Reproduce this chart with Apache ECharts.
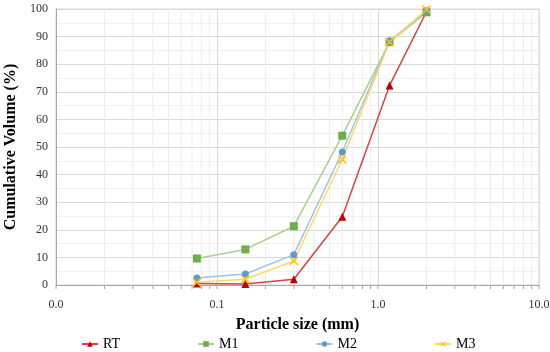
<!DOCTYPE html>
<html><head><meta charset="utf-8">
<script src="https://cdn.jsdelivr.net/npm/echarts@6/dist/echarts.min.js"></script>
<style>html,body{margin:0;padding:0;background:#fff}#c{width:550px;height:352px}</style>
</head><body><div id="c"></div>
<script>
const sizes = [0.075, 0.15, 0.3, 0.6, 1.18, 2.0];
const rt = [0.5, 0.4, 2.1, 24.7, 72.3, 99.0];
const m1 = [9.6, 12.9, 21.3, 54.1, 88.0, 98.8];
const m2 = [2.5, 4.0, 11.0, 48.2, 88.5, 99.4];
const m3 = [1.0, 2.1, 8.7, 45.5, 88.0, 99.8];
const minorX = [0.02,0.03,0.04,0.05,0.06,0.07,0.08,0.09,0.2,0.3,0.4,0.5,0.6,0.7,0.8,0.9,2,3,4,5,6,7,8,9];
const allTicksX = [0.01,0.1,1,10].concat(minorX);

const F = 'Liberation Serif';
const xPath = 'path://M0,1.2L1.2,0L5,3.8L8.8,0L10,1.2L6.2,5L10,8.8L8.8,10L5,6.2L1.2,10L0,8.8L3.8,5Z';
const pair = a => sizes.map((s,i)=>[s,a[i]]);

function mk(name, data, sym, symColor, lineColor, size){
  return {name, type:'line', data:pair(data), symbol:sym, symbolSize:size,
    itemStyle:{color:symColor}, lineStyle:{color:lineColor, width:1.5}, z:5};
}
const chart = echarts.init(document.getElementById('c'));
chart.setOption({
  animation:false,
  grid:{left:56, right:11, top:9, bottom:67, outerBoundsMode:'none', containLabel:false, show:true, borderColor:'#D9D9D9', borderWidth:1},
  xAxis:{type:'log', logBase:10, min:0.01, max:10,
    name:'Particle size (mm)', nameLocation:'middle', nameGap:32,
    nameTextStyle:{fontFamily:F, fontWeight:'bold', fontSize:16, color:'#000'},
    axisLine:{lineStyle:{color:'#A6A6A6'}}, axisTick:{show:false},
    axisLabel:{fontFamily:F, fontSize:12, color:'#333', margin:14, formatter:v=>v.toFixed(1)},
    splitLine:{show:true, lineStyle:{color:'#D9D9D9'}}},
  yAxis:{type:'value', min:0, max:100, interval:10,
    name:'Cumulative Volume (%)', nameLocation:'middle', nameGap:37,
    nameTextStyle:{fontFamily:F, fontWeight:'bold', fontSize:16, color:'#000'},
    axisLine:{show:true, lineStyle:{color:'#A6A6A6'}}, axisTick:{show:false},
    axisLabel:{fontFamily:F, fontSize:12, color:'#333', margin:8},
    splitLine:{lineStyle:{color:'#D9D9D9'}},
    minorTick:{show:false, splitNumber:2},
    minorSplitLine:{show:true, lineStyle:{color:'#F0F0F0'}}},
  legend:{top:332, left:76, itemGap:77, itemWidth:16, itemHeight:7,
    textStyle:{fontFamily:F, fontSize:14, color:'#000'},
    data:['RT','M1','M2','M3']},
  series:[
    {type:'custom', silent:true, clip:false, z:1, data:minorX.map(v=>[v]),
      renderItem:(p,api)=>{const top=api.coord([api.value(0),100]);const bot=api.coord([api.value(0),0]);
        return {type:'line', shape:{x1:top[0],y1:top[1],x2:bot[0],y2:bot[1]}, style:{stroke:'#EDEDED', lineWidth:1}};}},
    {type:'custom', silent:true, clip:false, z:2, data:allTicksX.map(v=>[v]),
      renderItem:(p,api)=>{const b=api.coord([api.value(0),0]);
        return {type:'line', shape:{x1:b[0],y1:b[1],x2:b[0],y2:b[1]+4}, style:{stroke:'#A6A6A6', lineWidth:1}};}},
    mk('RT', rt, 'triangle', '#C00000', '#E0403F', 8),
    mk('M1', m1, 'rect', '#70AD47', '#A9D18E', 8),
    mk('M2', m2, 'circle', '#5B9BD5', '#9DC3E6', 7),
    mk('M3', m3, xPath, '#FFC000', '#FFD966', 9)
  ]
});
</script></body></html>
